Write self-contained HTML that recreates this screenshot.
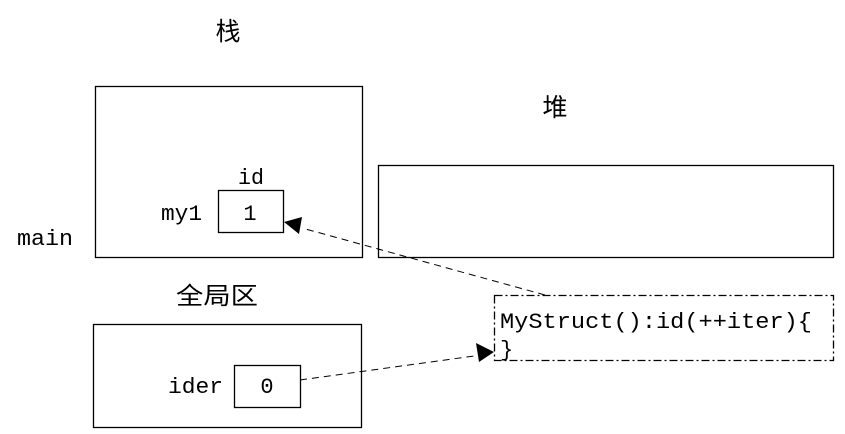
<!DOCTYPE html>
<html><head><meta charset="utf-8"><style>
html,body{margin:0;padding:0;background:#fff;}
svg{display:block;}
text{font-family:"Liberation Mono","Noto Serif CJK SC",monospace;fill:#000;}
.cn{font-family:"Liberation Sans","Noto Sans CJK SC",sans-serif;}
</style></head><body>
<svg width="845" height="434" viewBox="0 0 845 434" xmlns="http://www.w3.org/2000/svg">
<defs>
<marker id="ah" markerWidth="10" markerHeight="10" refX="9" refY="5" orient="auto" markerUnits="userSpaceOnUse">
<path d="M0,0 L18,5 L0,10 z" transform="scale(1)"/>
</marker>
</defs>
<g fill="none" stroke="#000" stroke-width="1.3">
<rect x="95.5" y="86.5" width="267" height="171"/>
<rect x="378.5" y="165.5" width="455" height="92"/>
<rect x="93.5" y="324.5" width="268" height="103"/>
<rect x="218.5" y="190.5" width="65" height="42"/>
<rect x="234.5" y="365.5" width="66" height="42"/>
<rect x="494.5" y="295.5" width="339" height="65" stroke-dasharray="8,3,2,3"/>
<path d="M545,295 L302,228" stroke-dasharray="7,5" stroke-width="1"/>
<path d="M300,380 L474,356" stroke-dasharray="7,5" stroke-width="1"/>
</g>
<polygon points="284,222 302,217 299,234" fill="#000"/>
<polygon points="494,352 476,343 479,362" fill="#000"/>
<text class="cn" x="228" y="40" font-size="25" text-anchor="middle">栈</text>
<text class="cn" x="555" y="116" font-size="25" text-anchor="middle">堆</text>
<text class="cn" x="217" y="304" font-size="24" text-anchor="middle" textLength="82" lengthAdjust="spacingAndGlyphs">全局区</text>
<text x="17" y="245" font-size="22" textLength="56" lengthAdjust="spacingAndGlyphs">main</text>
<text x="161" y="220" font-size="22" textLength="41" lengthAdjust="spacingAndGlyphs">my1</text>
<text x="238" y="184" font-size="22" textLength="26" lengthAdjust="spacingAndGlyphs">id</text>
<text x="250" y="220" font-size="22" text-anchor="middle">1</text>
<text x="168" y="393" font-size="22" textLength="55" lengthAdjust="spacingAndGlyphs">ider</text>
<text x="267" y="393" font-size="22" text-anchor="middle">0</text>
<text x="500" y="328" font-size="22" textLength="312" lengthAdjust="spacingAndGlyphs">MyStruct():id(++iter){</text>
<text x="500" y="356" font-size="22">}</text>
</svg>
</body></html>
